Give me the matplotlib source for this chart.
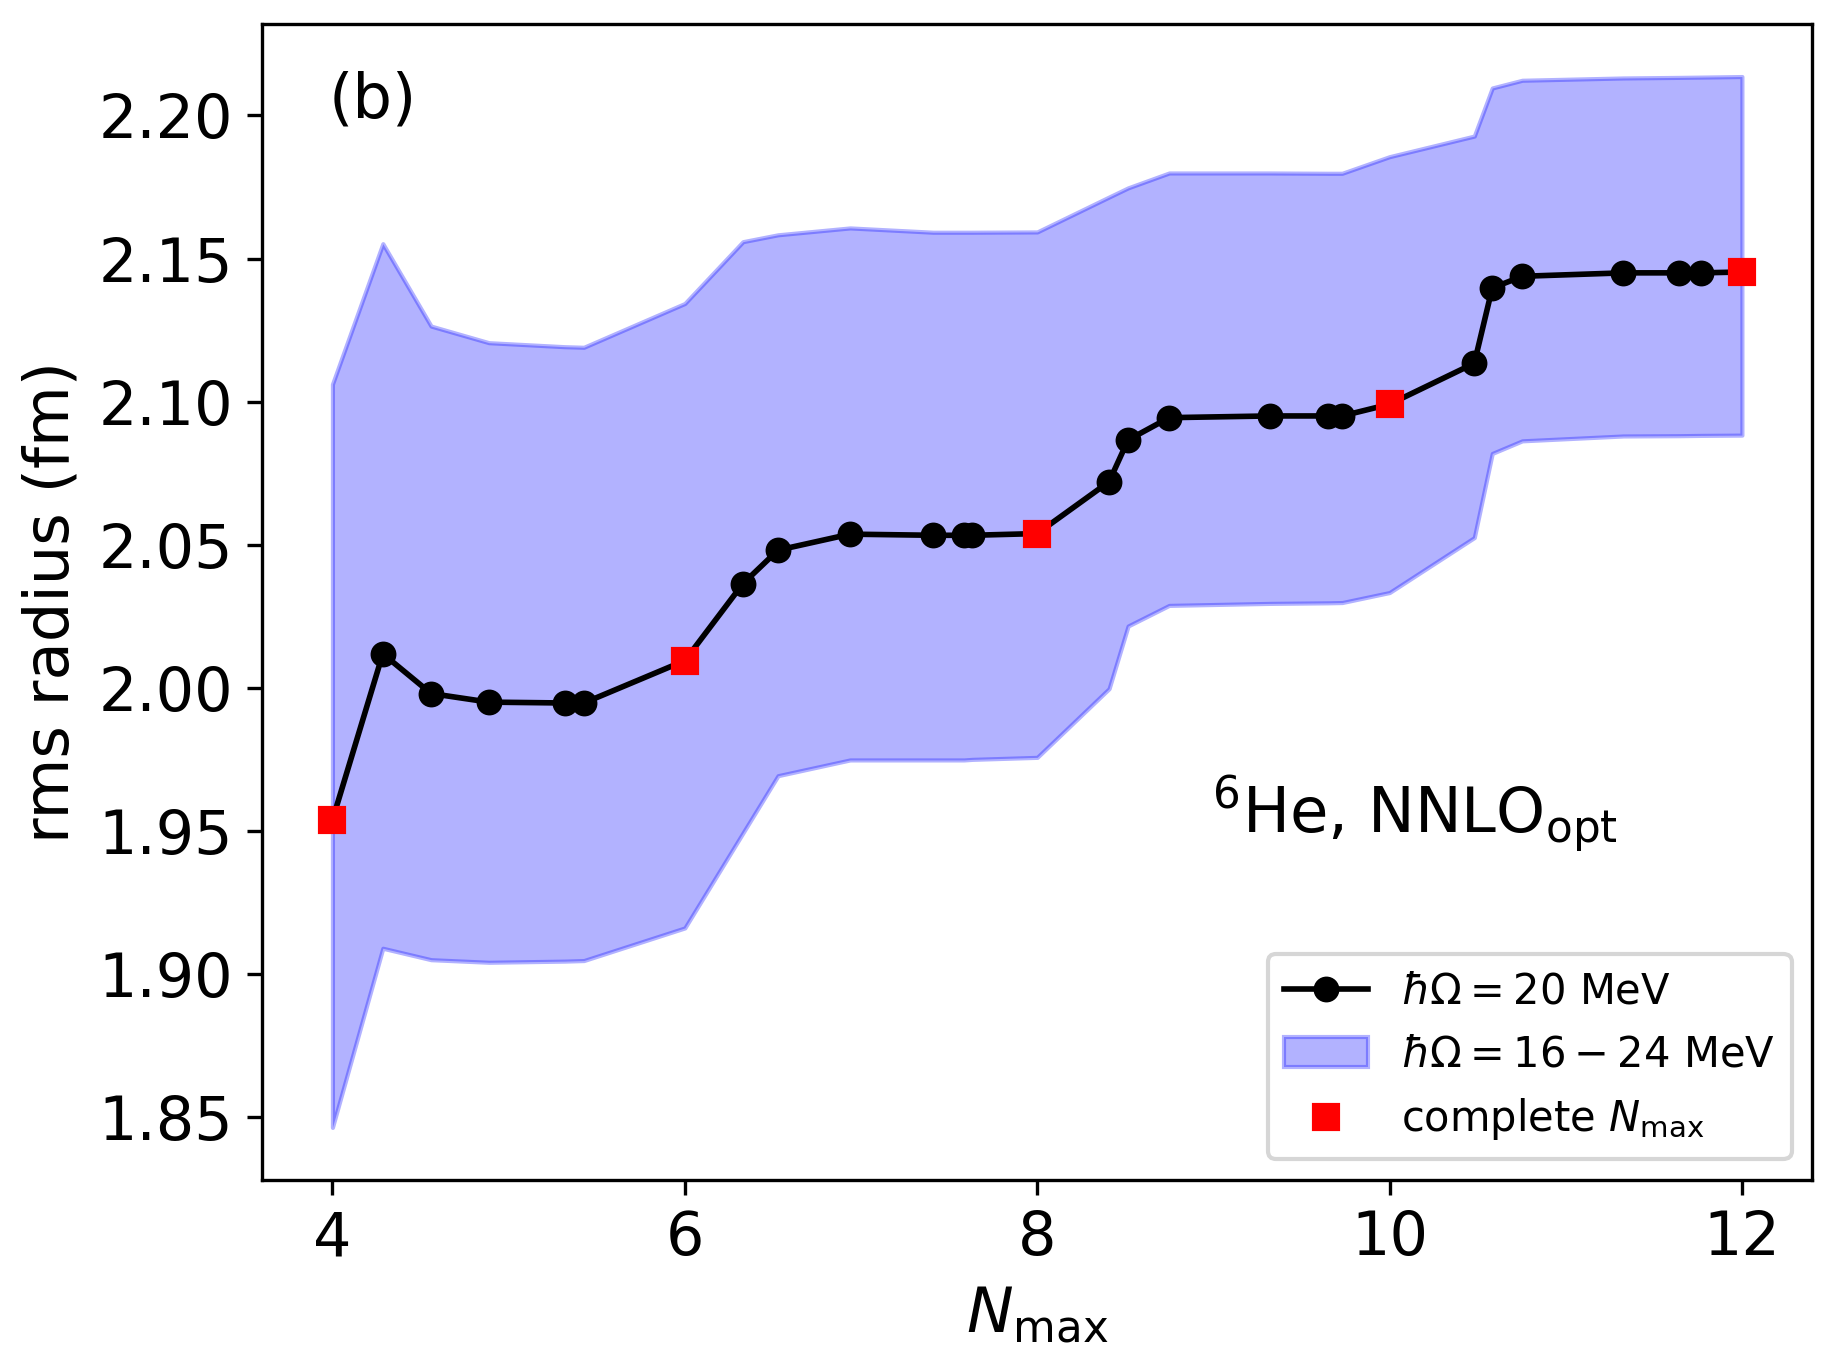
import matplotlib
matplotlib.use("Agg")
import matplotlib.pyplot as plt

# ---- data ----
nmax = [4.0, 4.286, 4.56, 4.888, 5.318, 5.427, 6.0, 6.330, 6.529, 6.938,
        7.409, 7.585, 7.632, 8.0, 8.408, 8.516, 8.749, 9.321, 9.652, 9.731,
        10.0, 10.481, 10.583, 10.753, 11.327, 11.643, 11.770, 12.0]
r_20 = [1.9538, 2.0119, 1.9980, 1.9950, 1.9947, 1.9947, 2.0095, 2.0364, 2.0481, 2.0537,
        2.0533, 2.0533, 2.0533, 2.0539, 2.0720, 2.0866, 2.0944, 2.0950, 2.0950, 2.0950,
        2.0991, 2.1134, 2.1397, 2.1438, 2.1450, 2.1450, 2.1450, 2.1453]
r_upper = [2.1061, 2.1552, 2.1264, 2.1206, 2.1192, 2.1190, 2.1343, 2.1559, 2.1583, 2.1607,
           2.1592, 2.1592, 2.1592, 2.1593, 2.1715, 2.1747, 2.1799, 2.1799, 2.1798, 2.1798,
           2.1856, 2.1928, 2.2096, 2.2123, 2.2131, 2.2133, 2.2134, 2.2136]
r_lower = [1.8464, 1.9090, 1.9050, 1.9041, 1.9045, 1.9047, 1.9161, 1.9493, 1.9693, 1.9748,
           1.9748, 1.9748, 1.9750, 1.9757, 1.9997, 2.0216, 2.0288, 2.0295, 2.0297, 2.0298,
           2.0333, 2.0525, 2.0819, 2.0863, 2.0880, 2.0881, 2.0882, 2.0883]
complete_nmax = [4, 6, 8, 10, 12]

# radius at the complete Nmax values, taken from the line
r_complete = [r_20[nmax.index(float(n))] for n in complete_nmax]

# ---- figure ----
fig = plt.figure(figsize=(1837 / 300, 1363 / 300), dpi=300)
ax = fig.add_axes([0.1426, 0.1343, 0.9866 - 0.1426, 0.9824 - 0.1343])

ax.plot(nmax, r_20, '-o', color='black', lw=1.35, ms=5.2,
        label=r'$\hbar\Omega = 20$ MeV', zorder=3)
ax.fill_between(nmax, r_lower, r_upper, color='blue', alpha=0.3,
                label=r'$\hbar\Omega = 16 - 24$ MeV', zorder=1)
ax.plot(complete_nmax, r_complete, 's', color='red', ms=5.8, ls='none',
        label=r'complete $N_{\rm max}$', zorder=4)

ax.set_xticks([4, 6, 8, 10, 12])
ax.set_yticks([1.85, 1.90, 1.95, 2.00, 2.05, 2.10, 2.15, 2.20])
ax.tick_params(labelsize=14.5)
ax.set_xlabel(r'$N_{\rm max}$', fontsize=15)
ax.set_ylabel('rms radius (fm)', fontsize=15)

ax.text(0.043, 0.919, '(b)', transform=ax.transAxes, fontsize=15, va='baseline')
ax.text(0.613, 0.301, r'$^{6}$He, NNLO$_{\rm opt}$', transform=ax.transAxes,
        fontsize=15, va='baseline')

ax.legend(loc='lower right', fontsize=10)

fig.savefig('out.png', dpi=300)
